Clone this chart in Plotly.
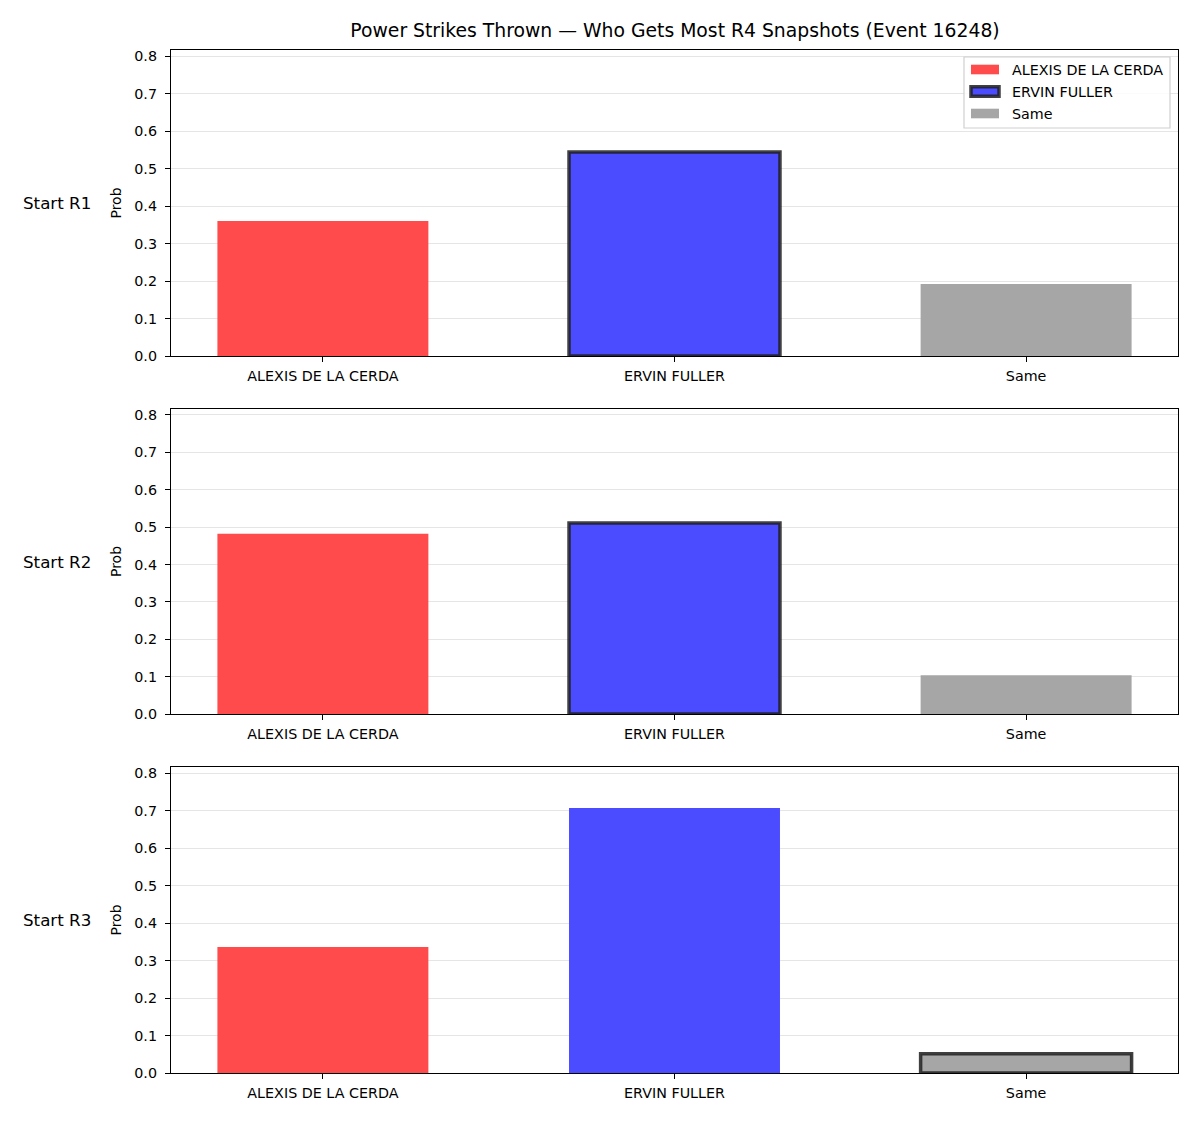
import plotly.graph_objects as go

title = "Power Strikes Thrown — Who Gets Most R4 Snapshots (Event 16248)"
categories = ["ALEXIS DE LA CERDA", "ERVIN FULLER", "Same"]
row_labels = ["Start R1", "Start R2", "Start R3"]
r1_values = [0.36, 0.544, 0.192]
r2_values = [0.482, 0.511, 0.104]
r3_values = [0.336, 0.707, 0.051]
highlighted = ["ERVIN FULLER", "ERVIN FULLER", "Same"]
y_ticks = [0.0, 0.1, 0.2, 0.3, 0.4, 0.5, 0.6, 0.7, 0.8]

colors = {"ALEXIS DE LA CERDA": "rgb(255,75,75)",
          "ERVIN FULLER": "rgb(75,75,255)",
          "Same": "rgb(166,166,166)"}
edge_color = "rgba(30,30,30,0.85)"

W, H = 1200, 1125
x0, x1 = 171 / W, 1178 / W
panels_px = [(50, 356), (409, 714), (767, 1073)]
font = "DejaVu Sans"

def px(xp, yp):
    return xp / W, 1 - yp / H

fig = go.Figure()
all_values = [r1_values, r2_values, r3_values]
for i, vals in enumerate(all_values):
    xa = "x" if i == 0 else f"x{i+1}"
    ya = "y" if i == 0 else f"y{i+1}"
    for cat, v in zip(categories, vals):
        hl = (cat == highlighted[i])
        fig.add_trace(go.Bar(
            x=[cat], y=[v], name=cat, xaxis=xa, yaxis=ya,
            width=0.6,
            marker=dict(color=colors[cat],
                        line=dict(color=edge_color if hl else "rgba(0,0,0,0)",
                                  width=3.5 if hl else 0)),
            showlegend=False,
        ))

layout = dict(
    width=W, height=H, margin=dict(l=0, r=0, t=0, b=0, autoexpand=False),
    plot_bgcolor="white", paper_bgcolor="white",
    font=dict(family=font, size=14, color="black"),
    barmode="overlay", showlegend=False,
    title=dict(text=title, x=675 / W, xanchor="center", y=1 - 30 / H, yanchor="middle",
               font=dict(size=18.8, family=font), automargin=False),
    annotations=[], shapes=[],
)
for i, (top, bot) in enumerate(panels_px):
    xk = "xaxis" if i == 0 else f"xaxis{i+1}"
    yk = "yaxis" if i == 0 else f"yaxis{i+1}"
    ya = "y" if i == 0 else f"y{i+1}"
    xa = "x" if i == 0 else f"x{i+1}"
    layout[xk] = dict(domain=[x0, x1], anchor=ya, range=[-0.432, 2.432],
                      categoryorder="array", categoryarray=categories,
                      showline=True, linecolor="black", linewidth=1.3, mirror=True,
                      ticks="outside", ticklen=5, tickcolor="black",
                      tickfont=dict(size=14.3), showgrid=False, layer="above traces",
                      ticklabelstandoff=2, automargin=False, fixedrange=True)
    layout[yk] = dict(domain=[1 - bot / H, 1 - top / H], anchor=xa, range=[0, 0.816],
                      tickvals=y_ticks, ticktext=[f"{t:.1f}" for t in y_ticks],
                      showline=True, linecolor="black", linewidth=1.3, mirror=True,
                      ticks="outside", ticklen=5, tickcolor="black",
                      tickfont=dict(size=14.3), showgrid=True,
                      gridcolor="rgba(0,0,0,0.1)", gridwidth=1, zeroline=False,
                      title=dict(text="Prob", font=dict(size=14), standoff=9),
                      layer="above traces", ticklabelstandoff=5, automargin=False,
                      fixedrange=True)
    layout["annotations"].append(dict(
        text=row_labels[i], xref="paper", yref="paper",
        x=57 / W, y=1 - ((top + bot) / 2) / H, xanchor="center", yanchor="middle",
        showarrow=False, font=dict(size=16.7, family=font)))

# legend box (upper right of first panel)
lx0, ly0 = px(964, 57)
lx1, ly1 = px(1170, 128)
layout["shapes"].append(dict(type="rect", xref="paper", yref="paper",
                             x0=lx0, x1=lx1, y0=ly1, y1=ly0,
                             line=dict(color="#d0d0d0", width=1.2),
                             fillcolor="rgba(255,255,255,0.85)", layer="above"))
legend_rows_y = [69.5, 91.5, 113.5]
for cat, yc in zip(categories, legend_rows_y):
    hl = (cat == highlighted[0])
    a0, b0 = px(971, yc - 4.8)
    a1, b1 = px(999, yc + 4.8)
    layout["shapes"].append(dict(type="rect", xref="paper", yref="paper",
                                 x0=a0, x1=a1, y0=b1, y1=b0,
                                 fillcolor=colors[cat],
                                 line=dict(color=edge_color if hl else "rgba(0,0,0,0)",
                                           width=3.5 if hl else 0),
                                 layer="above"))
    tx, ty = px(1010, yc)
    layout["annotations"].append(dict(text=cat, xref="paper", yref="paper",
                                      x=tx, y=ty, xanchor="left", yanchor="middle",
                                      showarrow=False, font=dict(size=14.3, family=font)))

fig.update_layout(**layout)
fig.write_html("out.html")
